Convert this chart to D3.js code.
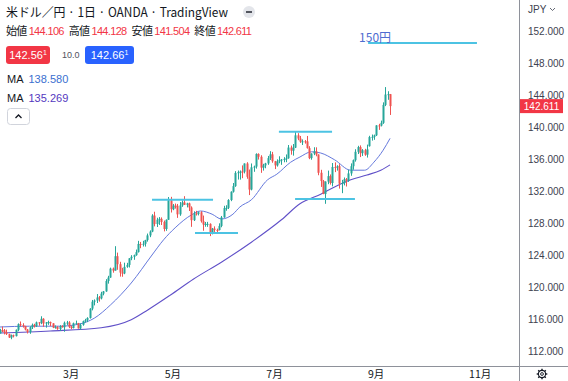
<!DOCTYPE html>
<html><head><meta charset="utf-8">
<script src="https://cdn.jsdelivr.net/npm/d3@7"></script>
<style>body{margin:0;background:#fff;overflow:hidden}svg{display:block}</style>
</head><body>
<svg id="c" width="568" height="381"></svg>
<script>
const dates = ["2022-01-17","2022-01-18","2022-01-19","2022-01-20","2022-01-21","2022-01-24","2022-01-25","2022-01-26","2022-01-27","2022-01-28","2022-01-31",
"2022-02-01","2022-02-02","2022-02-03","2022-02-04","2022-02-07","2022-02-08","2022-02-09","2022-02-10","2022-02-11","2022-02-14","2022-02-15","2022-02-16","2022-02-17","2022-02-18","2022-02-21","2022-02-22","2022-02-23","2022-02-24","2022-02-25","2022-02-28",
"2022-03-01","2022-03-02","2022-03-03","2022-03-04","2022-03-07","2022-03-08","2022-03-09","2022-03-10","2022-03-11","2022-03-14","2022-03-15","2022-03-16","2022-03-17","2022-03-18","2022-03-21","2022-03-22","2022-03-23","2022-03-24","2022-03-25","2022-03-28","2022-03-29","2022-03-30","2022-03-31",
"2022-04-01","2022-04-04","2022-04-05","2022-04-06","2022-04-07","2022-04-08","2022-04-11","2022-04-12","2022-04-13","2022-04-14","2022-04-15","2022-04-18","2022-04-19","2022-04-20","2022-04-21","2022-04-22","2022-04-25","2022-04-26","2022-04-27","2022-04-28","2022-04-29",
"2022-05-02","2022-05-03","2022-05-04","2022-05-05","2022-05-06","2022-05-09","2022-05-10","2022-05-11","2022-05-12","2022-05-13","2022-05-16","2022-05-17","2022-05-18","2022-05-19","2022-05-20","2022-05-23","2022-05-24","2022-05-25","2022-05-26","2022-05-27","2022-05-30","2022-05-31",
"2022-06-01","2022-06-02","2022-06-03","2022-06-06","2022-06-07","2022-06-08","2022-06-09","2022-06-10","2022-06-13","2022-06-14","2022-06-15","2022-06-16","2022-06-17","2022-06-20","2022-06-21","2022-06-22","2022-06-23","2022-06-24","2022-06-27","2022-06-28","2022-06-29","2022-06-30",
"2022-07-01","2022-07-04","2022-07-05","2022-07-06","2022-07-07","2022-07-08","2022-07-11","2022-07-12","2022-07-13","2022-07-14","2022-07-15","2022-07-18","2022-07-19","2022-07-20","2022-07-21","2022-07-22","2022-07-25","2022-07-26","2022-07-27","2022-07-28","2022-07-29",
"2022-08-01","2022-08-02","2022-08-03","2022-08-04","2022-08-05","2022-08-08","2022-08-09","2022-08-10","2022-08-11","2022-08-12","2022-08-15","2022-08-16","2022-08-17","2022-08-18","2022-08-19","2022-08-22","2022-08-23","2022-08-24","2022-08-25","2022-08-26","2022-08-29","2022-08-30","2022-08-31",
"2022-09-01","2022-09-02","2022-09-05","2022-09-06","2022-09-07","2022-09-08","2022-09-09"];

const opens = [114.21,114.60,114.59,114.33,114.11,113.68,113.97,113.86,114.65,115.35,115.24,
115.12,114.69,114.39,114.97,115.27,115.09,115.58,115.51,116.03,115.43,115.57,115.62,115.46,114.93,115.00,114.74,115.12,114.97,115.53,115.56,
114.99,114.88,115.47,115.48,114.82,115.28,115.73,115.85,116.13,117.29,118.16,118.31,118.69,118.58,119.17,119.45,120.75,121.18,122.30,122.05,123.85,122.85,121.80,
121.70,122.52,122.76,123.59,123.78,123.98,124.36,125.38,125.34,125.40,125.87,126.45,126.93,128.93,127.87,128.41,128.52,128.13,127.25,128.40,130.84,
129.72,130.17,130.15,129.08,130.20,130.57,130.27,130.45,129.94,128.35,129.20,129.14,129.34,128.22,127.81,127.88,127.89,126.86,127.30,127.13,127.12,127.63,
128.70,129.86,129.89,130.87,131.91,132.61,134.26,134.35,134.43,134.41,135.44,133.77,132.18,134.96,135.05,136.63,136.28,134.92,135.20,135.45,136.11,136.58,
135.72,135.20,135.70,135.85,135.93,136.01,136.09,137.43,137.04,137.42,138.96,138.56,138.17,138.21,138.20,137.36,136.11,136.68,136.95,136.56,134.28,
133.25,131.62,133.18,133.86,133.00,135.00,134.99,135.09,132.92,133.00,133.47,133.30,134.20,135.10,135.85,136.90,137.49,136.73,137.10,136.54,137.60,138.74,138.77,
138.96,140.20,140.18,140.52,142.76,144.06,144.106];

const highs = [114.77,115.06,114.75,114.67,114.16,114.06,114.05,114.69,115.45,115.69,115.47,
115.15,114.75,115.08,115.43,115.40,115.68,115.61,116.34,116.10,115.62,115.79,115.68,115.47,115.20,115.10,115.23,115.22,115.68,115.76,115.73,
115.16,115.55,115.80,115.51,115.45,115.80,116.02,116.22,117.35,118.38,118.45,119.12,118.87,119.40,119.50,120.98,121.40,122.42,122.43,125.10,124.30,123.15,122.40,
123.04,123.02,123.60,123.98,124.05,124.68,125.77,125.63,125.77,125.90,126.68,127.08,129.10,129.41,128.66,128.74,128.70,128.31,128.45,131.25,131.27,
130.37,130.43,130.38,130.62,130.82,131.35,130.53,130.55,130.08,129.46,129.52,129.43,129.47,128.93,128.13,128.14,127.96,127.38,127.58,127.30,127.96,128.88,
130.15,130.22,130.98,131.96,133.00,134.48,134.56,134.57,135.20,135.45,135.60,134.68,135.44,135.17,136.71,136.71,136.47,135.40,135.52,136.38,136.98,136.89,
135.76,135.96,136.34,136.00,136.23,136.57,137.75,137.68,137.87,139.38,139.23,138.88,138.45,138.37,138.88,137.60,136.71,137.47,137.46,136.58,134.65,
133.38,133.20,134.55,134.07,135.50,135.58,135.22,135.35,133.39,133.69,133.62,134.67,135.45,135.94,137.22,137.65,137.70,137.24,137.27,137.80,138.90,139.06,139.05,
140.23,140.40,140.80,143.08,144.99,144.47,144.128];

const lows = [114.18,114.35,114.07,114.00,113.63,113.47,113.70,113.82,114.47,115.06,114.92,
114.58,114.19,114.15,114.75,114.93,115.00,115.16,115.35,115.02,114.92,115.27,115.11,114.86,114.79,114.65,114.50,114.92,114.41,115.26,114.86,
114.72,114.82,115.32,114.81,114.66,115.16,115.56,115.61,116.05,117.08,117.70,118.00,118.17,118.45,118.96,119.40,120.42,121.15,121.79,122.05,122.15,121.30,121.28,
121.60,122.40,122.44,123.35,123.40,123.90,124.31,124.85,125.06,125.05,125.67,126.23,126.85,127.58,127.50,127.76,127.75,126.95,127.02,128.40,129.31,
129.60,129.80,128.64,128.90,130.02,130.25,129.95,129.50,127.52,128.25,128.93,128.95,128.05,127.03,127.53,127.52,126.36,126.58,126.88,126.75,127.07,127.47,
128.66,129.53,129.75,130.73,131.80,132.52,133.43,133.42,133.60,134.20,133.53,131.49,132.08,134.40,134.80,135.93,134.27,134.55,134.84,135.27,135.88,135.53,
134.74,135.05,135.47,135.27,135.59,135.60,136.03,136.54,136.42,137.37,138.35,138.01,137.75,137.92,137.30,135.98,135.91,136.48,136.34,133.97,132.51,
131.60,130.40,132.85,132.80,132.58,134.36,134.55,132.30,131.73,132.70,132.56,133.14,133.90,134.66,135.67,136.62,136.24,136.38,136.40,136.18,137.55,138.30,138.40,
138.87,139.64,140.07,140.39,142.61,143.40,141.504];

const closes = [114.60,114.59,114.33,114.11,113.68,113.97,113.86,114.65,115.35,115.24,115.12,
114.69,114.39,114.97,115.27,115.09,115.58,115.51,116.03,115.43,115.57,115.62,115.46,114.93,115.00,114.74,115.12,114.97,115.53,115.56,114.99,
114.88,115.47,115.48,114.82,115.28,115.73,115.85,116.13,117.29,118.16,118.31,118.69,118.58,119.17,119.45,120.75,121.18,122.30,122.05,123.85,122.85,121.80,121.70,
122.52,122.76,123.59,123.78,123.98,124.36,125.38,125.34,125.40,125.87,126.45,126.93,128.93,127.87,128.41,128.52,128.13,127.25,128.40,130.84,129.72,
130.17,130.15,129.08,130.20,130.57,130.27,130.45,129.94,128.35,129.20,129.14,129.34,128.22,127.81,127.88,127.89,126.86,127.30,127.13,127.12,127.63,128.70,
129.86,129.89,130.87,131.91,132.61,134.26,134.35,134.43,134.41,135.44,133.77,132.18,134.96,135.05,136.63,136.28,134.92,135.20,135.45,136.11,136.58,135.72,
135.20,135.70,135.85,135.93,136.01,136.09,137.43,137.04,137.42,138.96,138.56,138.17,138.21,138.20,137.36,136.11,136.68,136.95,136.56,134.28,133.25,
131.62,133.18,133.86,133.00,135.00,134.99,135.09,132.92,133.00,133.47,133.30,134.20,135.10,135.85,136.90,137.49,136.73,137.10,136.54,137.20,138.74,138.77,138.96,
140.20,140.18,140.52,142.76,144.06,144.106,142.611];

// moving averages (bar index, value)
const ma1Index  = [0,13,26,35,41,48,57,66,71,76,83,87,92,96,101,104,109,116,120,126,130,135,139,145,152,158,162,166,169];
const ma1Values = [115.0,115.1,115.1,115.4,116.1,117.75,120.5,124.0,125.9,127.4,129.0,129.5,129.1,128.5,129.1,130.0,130.9,133.4,134.1,135.6,136.25,136.9,136.75,135.9,134.6,134.6,135.6,137.1,138.58];
const ma2Index  = [0,22,44,57,64,74,84,96,109,122,130,139,145,152,159,165,169];
const ma2Values = [114.25,114.5,114.9,115.9,117.1,119.0,121.0,123.1,125.6,128.4,130.4,131.6,132.5,133.4,134.0,134.6,135.269];

// horizontal annotation lines (bar index from/to, price)
const levelFrom  = [66.0, 84.6, 120.9, 127.9, 159.5];
const levelTo    = [92.4, 103.2, 143.9, 153.8, 206.6];
const levelPrice = [130.9, 126.75, 139.4, 131.0, 150.5];

const priceTicks = [152,148,144,140,136,132,128,124,120,116,112];
const monthLabels = ["3月","5月","7月","9月","11月"];
const monthIndex = [31,75,119,163,208];

const lastPrice = 142.611;

const svg = d3.select("#c");
const W = 568, H = 381, axisX = 519, axisY = 366;
const x = d3.scaleLinear().domain([0,169]).range([-0.5, 390.06]);
const y = d3.scaleLinear().domain([112,152]).range([351,31]);

const UP = "#26a69a", DOWN = "#ef5350";
const FONT = "'Noto Sans CJK JP','Noto Sans',sans-serif";
const NUMF = "'Liberation Sans','DejaVu Sans',sans-serif";

const plot = svg.append("g");
plot.append("clipPath").attr("id","pc").append("rect").attr("x",0).attr("y",0).attr("width",axisX).attr("height",axisY);
const pg = plot.append("g").attr("clip-path","url(#pc)");

// MA lines
const maLine = (idx, vals) => d3.line().x((d,i)=>x(idx[i])).y(d=>y(d)).curve(d3.curveMonotoneX)(vals);
pg.append("path").attr("d", maLine(ma2Index, ma2Values)).attr("fill","none").attr("stroke","#6050c8").attr("stroke-width",1.1);
pg.append("path").attr("d", maLine(ma1Index, ma1Values)).attr("fill","none").attr("stroke","#6478dc").attr("stroke-width",1);

// candles
const bars = d3.range(dates.length);
const cg = pg.append("g");
cg.selectAll("line.w").data(bars).join("line")
  .attr("x1", i=>Math.round(x(i))+0.5).attr("x2", i=>Math.round(x(i))+0.5)
  .attr("y1", i=>y(highs[i])).attr("y2", i=>y(lows[i]))
  .attr("stroke", i=> closes[i]>=opens[i]?UP:DOWN).attr("stroke-width",1);
cg.selectAll("rect.b").data(bars).join("rect")
  .attr("x", i=>Math.round(x(i))-0.5).attr("width",2)
  .attr("y", i=>y(Math.max(opens[i],closes[i])))
  .attr("height", i=>Math.max(1, Math.abs(y(opens[i])-y(closes[i]))))
  .attr("fill", i=> closes[i]>=opens[i]?UP:DOWN);

// annotation lines
pg.selectAll("line.lv").data(levelPrice).join("line")
  .attr("x1",(d,i)=>x(levelFrom[i])).attr("x2",(d,i)=>x(levelTo[i]))
  .attr("y1",d=>y(d)).attr("y2",d=>y(d))
  .attr("stroke","#4cc3e3").attr("stroke-width",2);
svg.append("text").attr("x", x(levelFrom[4])-9).attr("y", y(levelPrice[4])-1)
  .attr("font-family",FONT).attr("font-size",12).attr("fill","#4f6cd0").text("150円");

// axes lines
svg.append("line").attr("x1",0).attr("x2",W).attr("y1",axisY+0.5).attr("y2",axisY+0.5).attr("stroke","#8e919a");
svg.append("line").attr("x1",axisX+0.5).attr("x2",axisX+0.5).attr("y1",0).attr("y2",H).attr("stroke","#8e919a");

// price axis
svg.append("g").selectAll("text").data(priceTicks).join("text")
  .attr("x",528).attr("y",d=>y(d)+3.5)
  .attr("font-family",NUMF).attr("font-size",10).attr("fill","#3d4250")
  .text(d=>d3.format(".3f")(d));
svg.append("text").attr("x",528).attr("y",13).attr("font-family",NUMF).attr("font-size",10).attr("fill","#3d4250").text("JPY");
svg.append("path").attr("d","M550,8 l2.5,2.5 l2.5,-2.5").attr("fill","none").attr("stroke","#3d4250").attr("stroke-width",0.8);

// last price label
svg.append("rect").attr("x",520).attr("y",y(lastPrice)-7).attr("width",43).attr("height",14).attr("fill","#f23645");
svg.append("text").attr("x",541.5).attr("y",y(lastPrice)+3.5).attr("text-anchor","middle")
  .attr("font-family",NUMF).attr("font-size",10).attr("fill","#fff").text(d3.format(".3f")(lastPrice));

// time axis
svg.append("g").selectAll("text").data(monthLabels).join("text")
  .attr("x",(d,i)=>x(monthIndex[i])).attr("y",377.5).attr("text-anchor","middle")
  .attr("font-family",FONT).attr("font-size",10.5).attr("fill","#131722").text(d=>d);

// gear icon
const gear = svg.append("g").attr("transform","translate(542,374)");
gear.append("circle").attr("r",3.6).attr("fill","none").attr("stroke","#131722").attr("stroke-width",1.1);
d3.range(8).forEach(k=>{
  const a = k*Math.PI/4;
  gear.append("line").attr("x1",Math.cos(a)*3.6).attr("y1",Math.sin(a)*3.6).attr("x2",Math.cos(a)*5.3).attr("y2",Math.sin(a)*5.3)
    .attr("stroke","#131722").attr("stroke-width",1.4);
});
gear.append("circle").attr("r",1.4).attr("fill","none").attr("stroke","#131722").attr("stroke-width",0.9);

// legend
svg.append("text").attr("x",6).attr("y",17).attr("font-family",FONT).attr("font-size",12.5).attr("fill","#131722")
  .attr("textLength",222).attr("lengthAdjust","spacingAndGlyphs")
  .text("米ドル／円 · 1日 · OANDA · TradingView");
const eye = svg.append("g").attr("transform","translate(249,12)");
eye.append("circle").attr("r",6).attr("fill","#e3e5ea");
eye.append("line").attr("x1",-3).attr("x2",3).attr("stroke","#131722").attr("stroke-width",1.4);

const ohlcNames = ["始値","高値","安値","終値"];
const ohlcVals = [opens[169], highs[169], lows[169], closes[169]];
const t2 = svg.append("text").attr("x",6).attr("y",35).attr("font-family",FONT).attr("font-size",11)
  .attr("textLength",246).attr("lengthAdjust","spacing");
ohlcNames.forEach((n,i)=>{
  t2.append("tspan").attr("fill","#131722").attr("dx", i?5:0).text(n);
  t2.append("tspan").attr("fill","#f23645").attr("dx",2).attr("font-family",NUMF).text(d3.format(".3f")(ohlcVals[i]));
});

function priceBox(px, w, col, main, sup){
  svg.append("rect").attr("x",px).attr("y",46).attr("width",w).attr("height",18).attr("rx",3).attr("fill",col);
  const t = svg.append("text").attr("x",px+w/2).attr("y",59).attr("text-anchor","middle").attr("font-family",NUMF).attr("font-size",11).attr("fill","#fff");
  t.append("tspan").text(main);
  t.append("tspan").attr("font-size",7).attr("dy",-4).text(sup);
}
priceBox(6,44,"#f23645","142.56","1");
svg.append("text").attr("x",62).attr("y",58).attr("font-family",NUMF).attr("font-size",9).attr("fill","#50535e").text("10.0");
priceBox(85,49,"#2962ff","142.66","1");

const maLabels = ["MA","MA"], maVals = [ma1Values[ma1Values.length-1], ma2Values[ma2Values.length-1]], maCols = ["#3a6fd0","#5438c0"];
maLabels.forEach((m,i)=>{
  const t = svg.append("text").attr("x",7).attr("y",83+i*19).attr("font-size",11).attr("font-family",NUMF);
  t.append("tspan").attr("fill","#131722").text(m);
  t.append("tspan").attr("dx",5).attr("fill",maCols[i]).text(d3.format(".3f")(maVals[i]));
});
svg.append("rect").attr("x",7.5).attr("y",108.5).attr("width",22).attr("height",16).attr("rx",3).attr("fill","#fff").attr("stroke","#d1d4dc");
svg.append("path").attr("d","M15.5,118 l3,-3 l3,3").attr("fill","none").attr("stroke","#131722").attr("stroke-width",1.3);
</script>
</body></html>
